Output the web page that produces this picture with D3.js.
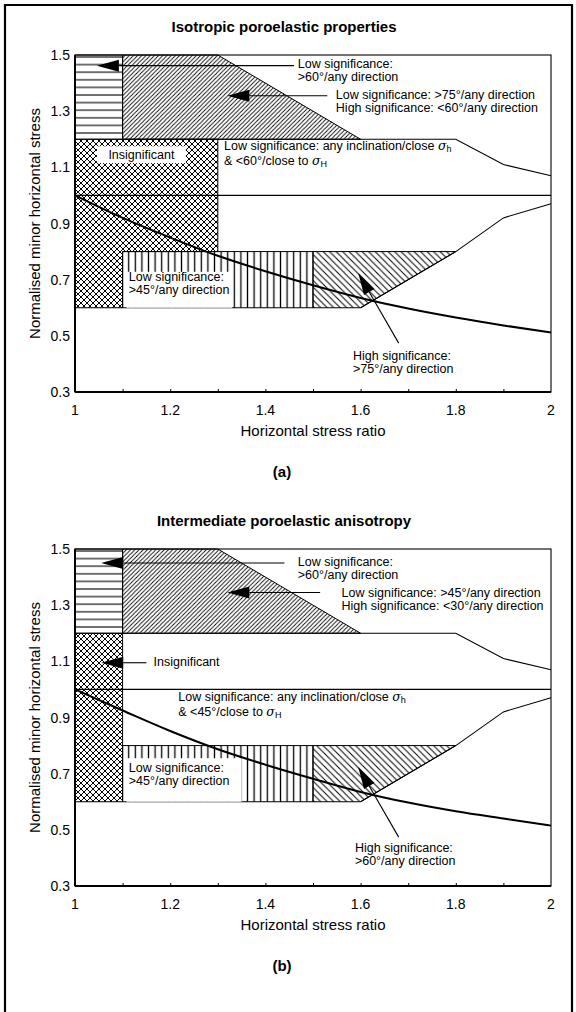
<!DOCTYPE html>
<html><head><meta charset="utf-8">
<script src="https://cdn.jsdelivr.net/npm/d3@7"></script>
<style>
body{margin:0;background:#fff}
svg{display:block}
text{font-family:"Liberation Sans",Arial,Helvetica,sans-serif;fill:#000}
</style>
</head><body>
<svg id="c" width="576" height="1012"></svg>
<script>
// ---------- data ----------
const xTicks = [1, 1.2, 1.4, 1.6, 1.8, 2];
const xMinorTicks = [1.1, 1.2, 1.3, 1.4, 1.5, 1.6, 1.7, 1.8, 1.9];
const yTicks = [0.3, 0.5, 0.7, 0.9, 1.1, 1.3, 1.5];
const stressRatio = [1, 1.1, 1.2, 1.3, 1.4, 1.5, 1.6, 1.7, 1.8, 1.9, 2];
const minorStressA = [1.0, 0.92, 0.85, 0.785, 0.73, 0.68, 0.635, 0.597, 0.565, 0.537, 0.512];
const minorStressB = [1.0, 0.925, 0.852, 0.787, 0.732, 0.682, 0.635, 0.597, 0.566, 0.54, 0.515];
// region outlines [stress ratio, normalised minor stress]
const horizRegion = [[1,1.5],[1.1,1.5],[1.1,1.2],[1,1.2]];
const diagRegion = [[1.1,1.5],[1.3,1.5],[1.6,1.2],[1.1,1.2]];
const crossRegionA = [[1,1.2],[1.3,1.2],[1.3,0.8],[1.1,0.8],[1.1,0.6],[1,0.6]];
const crossRegionB = [[1,1.2],[1.1,1.2],[1.1,0.6],[1,0.6]];
const vertRegion = [[1.1,0.8],[1.5,0.8],[1.5,0.6],[1.1,0.6]];
const backRegion = [[1.5,0.8],[1.8,0.8],[1.6,0.6],[1.5,0.6]];
const upperBoundary = [[1.1,1.2],[1.8,1.2],[1.9,1.11],[2,1.07]];
const lowerBoundary = [[1.6,0.6],[1.8,0.8],[1.9,0.92],[2,0.97]];
const unityLine = [[1,1.0],[2,1.0]];

const titles = ["Isotropic poroelastic properties", "Intermediate poroelastic anisotropy"];
const panelTags = ["(a)", "(b)"];
const labelsA = [
  {x:1.468, y:1.454, lines:["Low significance:", ">60°/any direction"]},
  {x:1.548, y:1.342, lines:["Low significance: >75°/any direction", "High significance: <60°/any direction"]},
  {x:1.313, y:1.163, lines:["Low significance: any inclination/close |h", "& <60°/close to |H"]},
  {x:1.113, y:0.695, lines:["Low significance:", ">45°/any direction"]},
  {x:1.584, y:0.415, lines:["High significance:", ">75°/any direction"]}
];
const labelsB = [
  {x:1.468, y:1.44, lines:["Low significance:", ">60°/any direction"]},
  {x:1.56, y:1.33, lines:["Low significance: >45°/any direction", "High significance: <30°/any direction"]},
  {x:1.165, y:1.085, lines:["Insignificant"]},
  {x:1.217, y:0.96, lines:["Low significance: any inclination/close  |h", "& <45°/close to |H"]},
  {x:1.113, y:0.705, lines:["Low significance:", ">45°/any direction"]},
  {x:1.588, y:0.42, lines:["High significance:", ">60°/any direction"]}
];
const arrowsA = [
  {tip:[1.046,1.462], tail:[1.46,1.462]},
  {tip:[1.32,1.355], tail:[1.53,1.355]},
  {tip:[1.595,0.724], tail:[1.68,0.474]}
];
const arrowsB = [
  {tip:[1.055,1.45], tail:[1.44,1.45]},
  {tip:[1.32,1.345], tail:[1.515,1.345]},
  {tip:[1.055,1.095], tail:[1.15,1.095]},
  {tip:[1.595,0.724], tail:[1.68,0.474]}
];
const boxesA = [
  {x0:1.046, x1:1.233, y0:1.175, y1:1.115, text:"Insignificant"},
  {x0:1.108, x1:1.33, y0:0.728, y1:0.6}
];
const boxesB = [
  {x0:1.108, x1:1.35, y0:0.755, y1:0.6}
];

// ---------- drawing ----------
const svg = d3.select("#c");
const defs = svg.append("defs");
function pat(id, w, h, d, sw){
  const p = defs.append("pattern").attr("id", id).attr("patternUnits","userSpaceOnUse")
    .attr("width", w).attr("height", h);
  p.append("path").attr("d", d).attr("stroke","#000").attr("stroke-width", sw).attr("fill","none");
}
pat("hl", 10, 7.6, "M0,3.8H10", 1.1);
pat("dg", 4.2, 4.2, "M-1,1L1,-1M0,4.2L4.2,0M3.2,5.2L5.2,3.2", 0.85);
pat("cx", 6, 6, "M0,0L6,6M6,0L0,6M-1,5L1,7M5,-1L7,1M-1,1L1,-1M5,7L7,5", 1.0);
pat("vl", 6.6, 10, "M3.3,0V10", 1.3);
pat("bs", 6.5, 6.5, "M-1,-1L7.5,7.5M-1,5.5L1,7.5M5.5,-1L7.5,1", 1.0);

svg.append("path").attr("d","M5,1012V5H572V1012").attr("fill","none").attr("stroke","#000").attr("stroke-width",2.2);

const x = d3.scaleLinear().domain([1,2]).range([75,551]);

function drawPanel(idx, off, curve, labels, arrows, boxes, crossRegion){
  const y = d3.scaleLinear().domain([0.3,1.5]).range([392+off, 55+off]);
  const g = svg.append("g");
  const line = d3.line().x(d=>x(d[0])).y(d=>y(d[1]));
  const poly = pts => line(pts) + "Z";

  g.append("path").attr("d", poly(horizRegion)).attr("fill","url(#hl)").attr("stroke","#000").attr("stroke-width",1);
  g.append("path").attr("d", poly(diagRegion)).attr("fill","url(#dg)").attr("stroke","#000").attr("stroke-width",1);
  g.append("path").attr("d", poly(crossRegion)).attr("fill","url(#cx)").attr("stroke","#000").attr("stroke-width",1);
  g.append("path").attr("d", poly(vertRegion)).attr("fill","url(#vl)").attr("stroke","#000").attr("stroke-width",1);
  g.append("path").attr("d", poly(backRegion)).attr("fill","url(#bs)").attr("stroke","#000").attr("stroke-width",1);

  boxes.forEach(b=>{
    g.append("rect").attr("x", x(b.x0)).attr("y", y(b.y0))
      .attr("width", x(b.x1)-x(b.x0)).attr("height", y(b.y1)-y(b.y0)).attr("fill","#fff");
    if(b.text){
      g.append("text").attr("x",(x(b.x0)+x(b.x1))/2).attr("y",(y(b.y0)+y(b.y1))/2+4.5)
        .attr("text-anchor","middle").attr("font-size",12.5).text(b.text);
    }
  });

  g.append("path").attr("d", line(upperBoundary)).attr("fill","none").attr("stroke","#000").attr("stroke-width",1.1);
  g.append("path").attr("d", line(lowerBoundary)).attr("fill","none").attr("stroke","#000").attr("stroke-width",1.1);
  g.append("path").attr("d", line(unityLine)).attr("fill","none").attr("stroke","#000").attr("stroke-width",1.4);

  const cl = d3.line().x((d,i)=>x(stressRatio[i])).y(d=>y(d)).curve(d3.curveMonotoneX);
  g.append("path").attr("d", cl(curve)).attr("fill","none").attr("stroke","#000").attr("stroke-width",2);

  arrows.forEach(a=>{
    const tx=x(a.tip[0]), ty=y(a.tip[1]), sx=x(a.tail[0]), sy=y(a.tail[1]);
    const L=Math.hypot(sx-tx, sy-ty), ux=(sx-tx)/L, uy=(sy-ty)/L;
    const hl=22, hw=6;
    const bx=tx+ux*hl, by=ty+uy*hl;
    g.append("line").attr("x1",bx).attr("y1",by).attr("x2",sx).attr("y2",sy).attr("stroke","#000").attr("stroke-width",1.1);
    g.append("path").attr("d",`M${tx},${ty}L${bx-uy*hw},${by+ux*hw}L${bx+uy*hw},${by-ux*hw}Z`).attr("fill","#000");
  });

  labels.forEach(l=>{
    const hasSigma = l.lines.some(s=>s.includes("|"));
    const gap = hasSigma ? 15 : 13;
    l.lines.forEach((s,i)=>{
      const t = g.append("text").attr("x", x(l.x)).attr("y", y(l.y)+i*gap).attr("font-size",12.5);
      const parts = s.split("|");
      t.append("tspan").text(parts[0]);
      if(parts.length>1){
        t.append("tspan").attr("font-style","italic").attr("font-family","'DejaVu Serif',serif").text("σ");
        t.append("tspan").attr("font-size",9).attr("dy",2.5).text(parts[1]);
      }
    });
  });

  g.append("rect").attr("x",x(1)).attr("y",y(1.5)).attr("width",x(2)-x(1)).attr("height",y(0.3)-y(1.5))
    .attr("fill","none").attr("stroke","#000").attr("stroke-width",1.1);
  g.append("line").attr("x1",x(1)).attr("x2",x(2)).attr("y1",y(0.3)).attr("y2",y(0.3)).attr("stroke","#000").attr("stroke-width",2);
  g.append("line").attr("x1",x(1)).attr("x2",x(1)).attr("y1",y(0.3)).attr("y2",y(1.5)).attr("stroke","#000").attr("stroke-width",2);

  const xa = d3.axisBottom(x).tickValues(xMinorTicks).tickSize(-3).tickFormat("");
  const xg = g.append("g").attr("transform",`translate(0,${y(0.3)})`).call(xa);
  xg.select(".domain").remove();
  xg.selectAll("line").attr("stroke","#000");

  g.selectAll(null).data(xTicks).enter().append("text")
    .attr("x", d=>x(d)).attr("y", y(0.3)+23).attr("text-anchor","middle").attr("font-size",14)
    .text(d=>d3.format("")(d));
  g.selectAll(null).data(yTicks).enter().append("text")
    .attr("x", 70).attr("y", d=>y(d)+5).attr("text-anchor","end").attr("font-size",14)
    .text(d=>d.toFixed(1));

  g.append("text").attr("x",313).attr("y",y(0.3)+44).attr("text-anchor","middle").attr("font-size",15)
    .text("Horizontal stress ratio");
  g.append("text").attr("transform",`translate(40,${(y(0.3)+y(1.5))/2}) rotate(-90)`)
    .attr("text-anchor","middle").attr("font-size",15).text("Normalised minor horizontal stress");
  g.append("text").attr("x",284).attr("y",32+off).attr("text-anchor","middle").attr("font-size",15)
    .attr("font-weight","bold").text(titles[idx]);
  g.append("text").attr("x",282).attr("y",477+off).attr("text-anchor","middle").attr("font-size",15)
    .attr("font-weight","bold").text(panelTags[idx]);
}

drawPanel(0, 0, minorStressA, labelsA, arrowsA, boxesA, crossRegionA);
drawPanel(1, 494, minorStressB, labelsB, arrowsB, boxesB, crossRegionB);
</script>
</body></html>
